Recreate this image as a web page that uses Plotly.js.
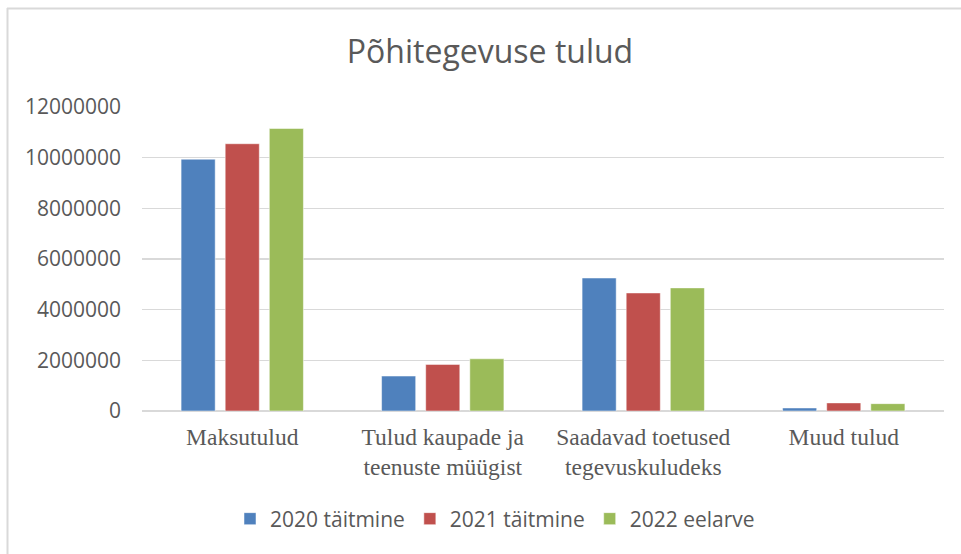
<!DOCTYPE html>
<html>
<head>
<meta charset="utf-8">
<script src="https://cdn.plot.ly/plotly-3.0.1.min.js"></script>
<style>
  html, body { margin: 0; padding: 0; background: #fff; }
  #chart { width: 961px; height: 554px; }
</style>
</head>
<body>
<div id="chart"></div>
<script>
// categories (ticks with line breaks as in the original)
const categories = [
    "Maksutulud",
    "Tulud kaupade ja<br>teenuste müügist",
    "Saadavad toetused<br>tegevuskuludeks",
    "Muud tulud"
];
const series2020 = [9940000, 1380000, 5250000, 120000];
const series2021 = [10550000, 1840000, 4660000, 320000];
const series2022 = [11150000, 2060000, 4860000, 290000];
const seriesNames = ["2020 täitmine", "2021 täitmine", "2022 eelarve"];
const seriesColors = ["#4F81BD", "#C0504D", "#9BBB59"];
const yTicks = [0, 2000000, 4000000, 6000000, 8000000, 10000000, 12000000];

const allSeries = [series2020, series2021, series2022];
let data = allSeries.map((vals, i) => ({
    type: 'bar',
    x: categories,
    y: vals,
    name: seriesNames[i],
    marker: {color: seriesColors[i], line: {color: '#ffffff', width: 0.5}},
    hoverinfo: 'y'
}));

// the frame of the chart box, only top and left edges fall inside the image
const W = 961, H = 554;
const m = {l: 142, r: 17, t: 107, b: 143};
const pw = W - m.l - m.r, ph = H - m.t - m.b;
function px(x){ return (x - m.l) / pw; }
function py(y){ return (H - m.b - y) / ph; }

var layout = {
    width: W,
    height: H,
    margin: m,
    paper_bgcolor: '#ffffff',
    plot_bgcolor: '#ffffff',
    showlegend: true,
    title: {
        text: 'Põhitegevuse tulud',
        font: {family: 'Open Sans, Liberation Sans, sans-serif', size: 32, color: '#595959'},
        x: 490 / W, xanchor: 'center',
        y: 1 - 52 / H, yanchor: 'middle'
    },
    bargap: 0.34,
    bargroupgap: 0.227,
    barmode: 'group',
    xaxis: {
        type: 'category',
        showgrid: false,
        showline: false,
        zeroline: false,
        ticks: '',
        tickfont: {family: 'Liberation Serif, serif', size: 23.5, color: '#595959'},
        ticklabelstandoff: 9
    },
    yaxis: {
        range: [0, 12000000],
        tickvals: yTicks,
        ticktext: yTicks.map(v => String(v)),
        showgrid: true,
        gridcolor: '#d9d9d9',
        gridwidth: 1.5,
        zeroline: true,
        zerolinecolor: '#d9d9d9',
        zerolinewidth: 1.5,
        showline: false,
        ticks: '',
        ticklabelstandoff: 20,
        tickfont: {family: 'Open Sans, Liberation Sans, sans-serif', size: 21, color: '#595959'}
    },
    legend: {
        orientation: 'h',
        x: px(495), xanchor: 'center',
        y: py(519), yanchor: 'middle',
        font: {family: 'Open Sans, Liberation Sans, sans-serif', size: 21, color: '#595959'},
        itemwidth: 30,
        traceorder: 'normal'
    },
    shapes: [
        {type: 'line', xref: 'paper', yref: 'paper', x0: px(7), x1: px(W + 5), y0: py(8.5), y1: py(8.5),
         line: {color: '#d9d9d9', width: 2}},
        {type: 'line', xref: 'paper', yref: 'paper', x0: px(7.5), x1: px(7.5), y0: py(8), y1: py(H + 5),
         line: {color: '#d9d9d9', width: 2}}
    ]
};

Plotly.newPlot('chart', data, layout, {displayModeBar: false, staticPlot: true});
</script>
</body>
</html>
